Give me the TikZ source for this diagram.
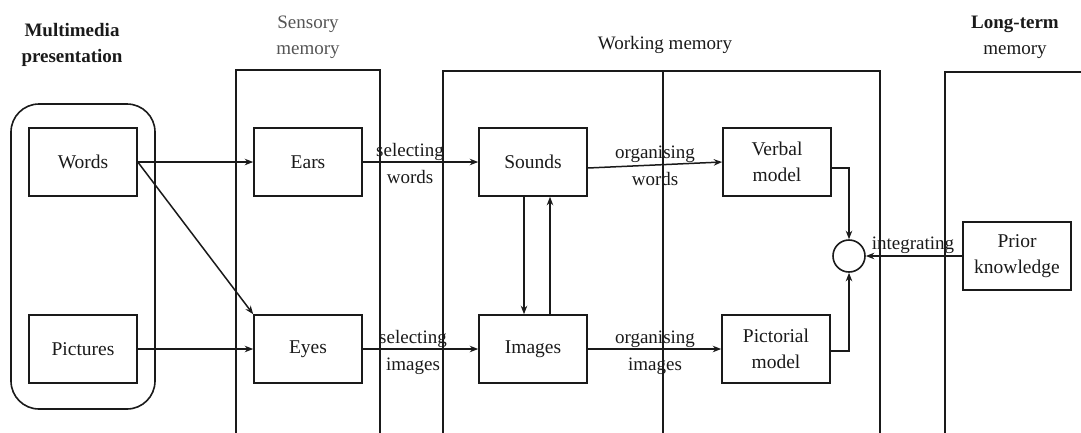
\documentclass[tikz,border=0pt]{standalone}
\usepackage{fontspec}
\setmainfont{Liberation Serif}
\usetikzlibrary{arrows.meta}
\definecolor{ink}{HTML}{1A1A1A}
\definecolor{soft}{HTML}{555555}
\tikzset{
  box/.style={draw=ink, line width=1.6pt, minimum width=108pt, minimum height=68pt, inner sep=0pt, align=center, font=\fontsize{19.5}{26}\selectfont, text=ink},
  region/.style={draw=ink, line width=1.7pt},
  conn/.style={draw=ink, line width=1.5pt, -{Stealth[length=8.5pt,width=6.5pt]}},
  lbl/.style={inner sep=0pt, align=center, font=\fontsize{19}{27}\selectfont, text=ink},
  ttl/.style={inner sep=0pt, align=center, font=\fontsize{19}{26}\selectfont, text=ink},
}
\begin{document}
\begin{tikzpicture}[x=1pt,y=-1pt]
\useasboundingbox (0,0) rectangle (1081,432);
% regions
\draw[region] (236,440) -- (236,70) -- (380,70) -- (380,440);
\draw[region] (443,440) -- (443,71) -- (880,71) -- (880,440);
\draw[region] (663,71) -- (663,440);
\draw[region] (945,440) -- (945,72) -- (1090,72);
% rounded container
\node[draw=ink, line width=1.6pt, rounded corners=28pt, minimum width=144pt, minimum height=305pt, inner sep=0pt] (mm) at (83,256.5) {};
% titles
\node[ttl, font=\fontsize{19}{26}\selectfont\bfseries] (t1) at (72,45) {Multimedia\\presentation};
\node[ttl, text=soft] (t2) at (308,37) {Sensory\\memory};
\node[ttl] (t3) at (665,45) {Working memory};
\node[ttl] (t4) at (1015,37) {\textbf{Long-term}\\memory};
% boxes
\node[box] (words) at (83,162) {Words};
\node[box] (pics) at (83,349) {Pictures};
\node[box] (ears) at (308,162) {Ears};
\node[box] (eyes) at (308,349) {Eyes};
\node[box] (sounds) at (533,162) {Sounds};
\node[box] (images) at (533,349) {Images};
\node[box] (verbal) at (777,162) {Verbal\\model};
\node[box] (pict) at (776,349) {Pictorial\\model};
\node[box] (prior) at (1017,256) {Prior\\knowledge};
\node[draw=ink, line width=1.6pt, circle, minimum size=32pt, inner sep=0pt] (circ) at (849,256) {};
% connectors
\draw[conn] (words.east) -- (ears.west);
\draw[conn] (words.east) -- (eyes.north west);
\draw[conn] (pics.east) -- (eyes.west);
\draw[conn] (ears.east) -- (sounds.west);
\draw[conn] (eyes.east) -- (images.west);
\draw[conn] ([yshift=-6pt]sounds.east) -- (verbal.west);
\draw[conn] (images.east) -- (pict.west);
\draw[conn] ([xshift=-9pt]sounds.south) -- ([xshift=-9pt]images.north);
\draw[conn] ([xshift=17pt]images.north) -- ([xshift=17pt]sounds.south);
\draw[conn] ([yshift=-6pt]verbal.east) -| (circ.north);
\draw[conn] ([yshift=-2pt]pict.east) -| (circ.south);
\draw[conn] (prior.west) -- (circ.east);
% labels
\node[lbl] (l1) at (410,163.5) {selecting\\words};
\node[lbl] (l2) at (413,352.5) {selecting\\images};
\node[lbl] (l3) at (655,166) {organising\\words};
\node[lbl] (l4) at (655,352.5) {organising\\images};
\node[lbl] (l5) at (913,245) {integrating};
\end{tikzpicture}
\end{document}
